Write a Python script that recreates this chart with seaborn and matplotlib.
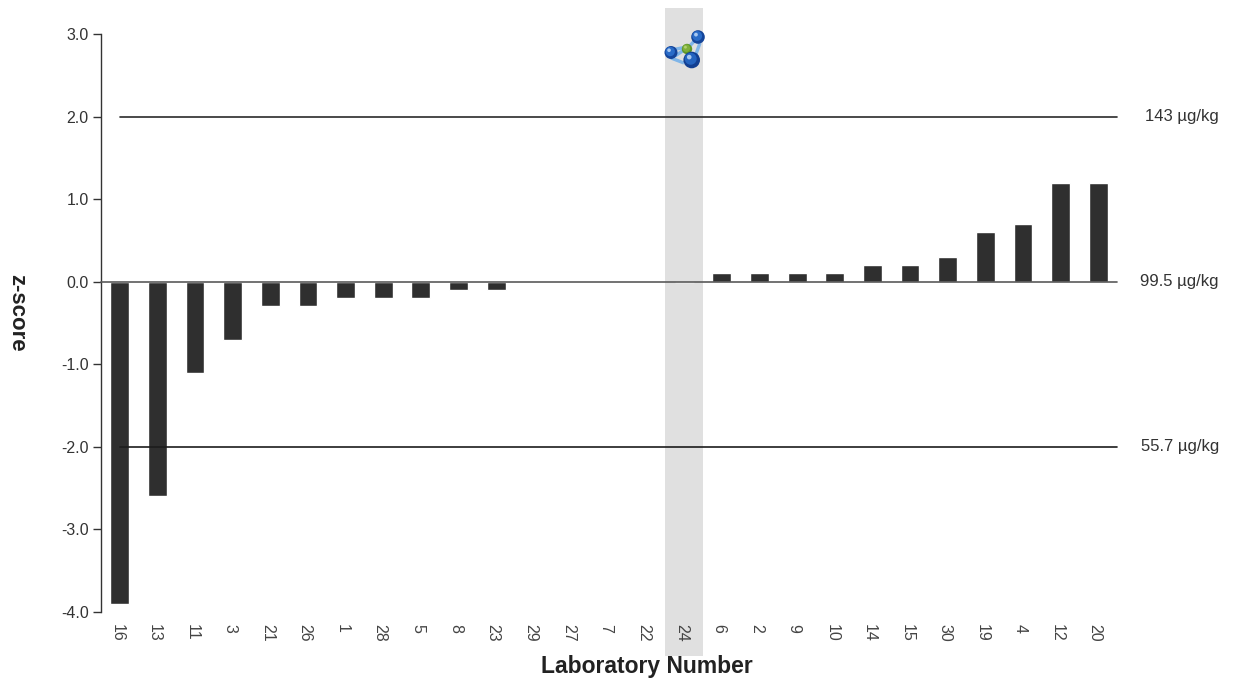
import matplotlib
matplotlib.use("Agg")
import matplotlib.pyplot as plt
from matplotlib.patches import Circle, PathPatch
from matplotlib.path import Path
from matplotlib.transforms import ScaledTranslation, IdentityTransform
import seaborn as sns
import pandas as pd

labs = ["16","13","11","3","21","26","1","28","5","8","23","29","27","7","22","24","6","2","9","10","14","15","30","19","4","12","20"]
zscores = [-3.9,-2.6,-1.1,-0.7,-0.3,-0.3,-0.2,-0.2,-0.2,-0.1,-0.1,0,0,0,0,0,0.1,0.1,0.1,0.1,0.2,0.2,0.3,0.6,0.7,1.2,1.2]
limit_z = [2.0,0.0,-2.0]
limit_labels = ["143 µg/kg","99.5 µg/kg","55.7 µg/kg"]
highlight = "24"

sns.set_theme(style="white")
plt.rcParams['font.family'] = ['Liberation Sans','DejaVu Sans']
W,H = 1234,681
fig = plt.figure(figsize=(W/100,H/100),dpi=100)
L,R,T,B = 101,1117,34,612
ax = fig.add_axes([L/W,1-B/H,(R-L)/W,(B-T)/H])
df = pd.DataFrame({"lab":labs,"z":zscores})
sns.barplot(data=df,x="lab",y="z",color="#2f2f2f",saturation=1,width=0.5,ax=ax,zorder=3)
n=len(labs)
ax.set_xlim(-0.5,n-0.5)
ax.set_ylim(-4,3)
i=labs.index(highlight)
ax.axvspan(i-0.5,i+0.5,ymin=-0.076,ymax=1.045,color="#e0e0e0",zorder=0,clip_on=False,lw=0)
for z,t in zip(limit_z,limit_labels):
    x0 = -0.5 if z==0 else 0.0
    col = {2.0:"#2a2a2a",0.0:"#5a5a5a",-2.0:"#1c1c1c"}[z]
    ax.plot([x0,n-0.5],[z,z],color=col,lw=1.2,zorder=4,clip_on=False)
    ax.annotate(t,xy=(1,z),xycoords=("axes fraction","data"),xytext=(102,0),textcoords="offset pixels",ha="right",va="center",fontsize=12,color="#333333")
for s in ("top","right","bottom"):
    ax.spines[s].set_visible(False)
ax.spines["left"].set_color("#333333")
ax.spines["left"].set_linewidth(1)
ax.set_yticks([-4,-3,-2,-1,0,1,2,3])
ax.set_yticklabels([f"{v:.1f}" for v in [-4,-3,-2,-1,0,1,2,3]])
ax.tick_params(axis="y",left=True,length=6,width=1,color="#333333",labelsize=11.5,labelcolor="#333333",pad=3)
ax.tick_params(axis="x",bottom=False,labelsize=11.5,labelcolor="#444444",labelrotation=-90,pad=3)
off = ScaledTranslation(-3/100,0,fig.dpi_scale_trans)
for lb in ax.get_xticklabels():
    lb.set_transform(lb.get_transform()+off)
ax.set_xlabel("Laboratory Number",fontsize=16.5,fontweight="bold",color="#222222")
ax.set_ylabel("z-score",fontsize=16,fontweight="bold",color="#222222",rotation=-90)
ax.xaxis.set_label_coords((646.5-L)/(R-L),-(667-B)/(B-T),transform=ax.transAxes)
ax.yaxis.set_label_coords((17-L)/(R-L),1-(313-T)/(B-T),transform=ax.transAxes)
ax.xaxis.label.set_va("center")
ax.yaxis.label.set_va("center")

# molecule logo drawn in pixel space (decoration, not data)
def px(x,y): return (x,H-y)
tr = IdentityTransform()
for a,b in [((671,50),(687,47)),((675,56),(684,50)),((687,49),(692,60)),((687,49),(698,37)),((671,58),(684,63)),((700,43),(696,54))]:
    fig.add_artist(PathPatch(Path([px(*a),px(*b)]),transform=tr,ec="#7fb5e8",lw=2.4,fill=False,zorder=6))
for (x,y,r,c,m,h) in [(687,49,5.2,"#5f9628","#7fb03a","#b0d070"),(671,52.5,6.5,"#15459a","#2a6cc8","#a8c8f0"),(698,37,6.8,"#15459a","#2a6cc8","#a8c8f0"),(691.7,60,8.3,"#123f92","#2464c0","#a8c8f0")]:
    fig.add_artist(Circle(px(x,y),r,transform=tr,fc=c,ec="none",zorder=7))
    fig.add_artist(Circle(px(x-r*0.12,y-r*0.15),r*0.72,transform=tr,fc=m,ec="none",zorder=8))
    fig.add_artist(Circle(px(x-r*0.3,y-r*0.35),r*0.28,transform=tr,fc=h,ec="none",zorder=9))
fig.savefig("out.png",dpi=100,facecolor="white")
